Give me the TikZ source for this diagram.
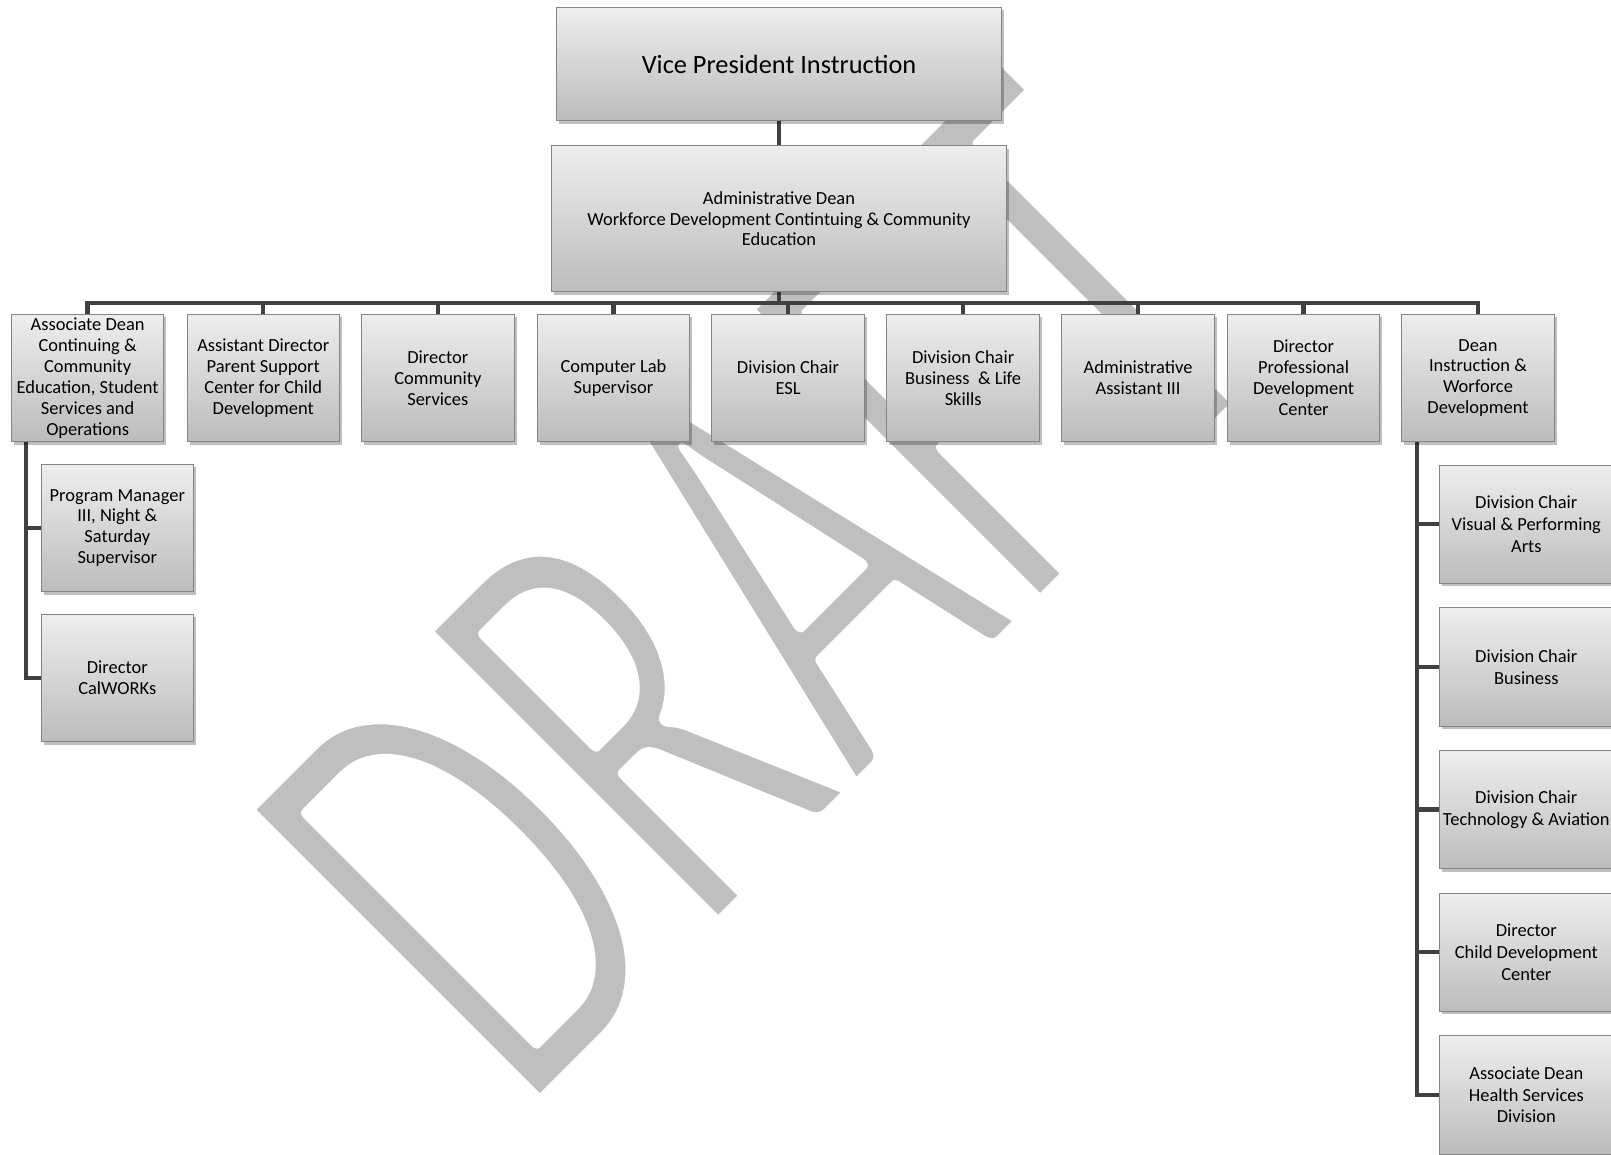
\documentclass[tikz,border=0pt]{standalone}
\usepackage{fontspec}
\setmainfont{Carlito}
\usepackage{xcolor}
\usetikzlibrary{calc,shadows,backgrounds}
\definecolor{linegray}{HTML}{404040}
\definecolor{boxtop}{HTML}{EEEEEE}
\definecolor{boxbottom}{HTML}{BCBCBC}
\definecolor{boxedge}{HTML}{858585}
\definecolor{markgray}{HTML}{BFBFBF}
% white outline over the glyphs gives the thin watermark letters
\newcommand{\thinmark}[1]{\special{pdf:code 2 Tr 1 1 1 RG 8 w 1 j}#1\special{pdf:code 0 Tr}}
\tikzset{
    orgbox/.style={draw=boxedge,line width=0.5pt,top color=boxtop,bottom color=boxbottom,
      drop shadow={shadow xshift=0.05cm,shadow yshift=-0.06cm,fill=black,opacity=0.25},
      align=center,inner sep=1pt,text=black,font=\fontsize{10.5}{11.9}\selectfont},
    unitbox/.style={orgbox,minimum width=3.05cm,minimum height=2.548cm},
    sidebox/.style={orgbox,minimum width=3.48cm,minimum height=2.366cm,
      font=\fontsize{10.5}{12.3}\selectfont},
    conn/.style={draw=linegray,line width=2.45pt},
    watermark/.style={anchor=base west,inner sep=0pt,text=markgray,transform shape,
      font=\fontsize{368}{368}\selectfont}
}

\begin{document}
\begin{tikzpicture}
  \useasboundingbox (0,0) rectangle (32.22,-23.08);
  % top of the chart
  \node[orgbox,minimum width=8.886cm,minimum height=2.268cm,
    font=\fontsize{15}{18}\selectfont] (vp) at (15.58,-1.28) {Vice President Instruction};
  \node[orgbox,minimum width=9.086cm,minimum height=2.92cm] (ad) at (15.58,-4.374)
    {Administrative Dean\\Workforce Development Contintuing \& Community\\Education};

  % first level
  \foreach \i/\x/\txt in {
      1/1.753/{Associate Dean\\Continuing \&\\Community\\Education, Student\\Services and\\Operations},
      2/5.265/{Assistant Director\\Parent Support\\Center for Child\\Development},
      3/8.757/{Director\\Community\\Services},
      4/12.269/{Computer Lab\\Supervisor},
      5/15.761/{Division Chair\\ESL},
      6/19.263/{Division Chair\\Business\ \ \& Life\\Skills},
      7/22.761/{Administrative\\Assistant III},
      8/26.071/{Director\\Professional\\Development\\Center},
      9/29.559/{Dean\\Instruction \&\\Worforce\\Development}} {
    \node[unitbox] (t\i) at (\x,-7.56) {\txt};
  }

  % under the associate dean
  \node[unitbox] (pm) at (2.346,-10.56) {Program Manager\\III, Night \&\\Saturday\\Supervisor};
  \node[unitbox] (cw) at (2.346,-13.56) {Director\\CalWORKs};

  % under the dean
  \foreach \i/\txt in {
      1/{Division Chair\\Visual \& Performing\\Arts},
      2/{Division Chair\\Business},
      3/{Division Chair\\Technology \& Aviation},
      4/{Director\\Child Development\\Center},
      5/{Associate Dean\\Health Services\\Division}} {
    \node[sidebox] (s\i) at (30.526,-10.484-2.854*\i+2.854) {\txt};
  }

  \begin{scope}[on background layer]
    % watermark behind everything
    \begin{scope}[shift={(10.44,-22.42)},rotate=45,xscale=0.63]
      \node[watermark] (mark) at (0,0) {\thinmark{DRAFT}};
    \end{scope}
    \coordinate (bus) at ($(ad.south)!0.5!(t5.north)$);
    \draw[conn] (vp.south) -- (ad.north);
    \draw[conn] (ad.south) -- (ad.south |- bus);
    \draw[conn] (t1.north) -- (t1.north |- bus) -- (t9.north |- bus) -- (t9.north);
    \foreach \i in {2,...,8}
      \draw[conn] (t\i.north) -- (t\i.north |- bus);
    \coordinate (lspine) at ($(t1.south west)+(0.306,0)$);
    \draw[conn] (lspine) |- (pm.west);
    \draw[conn] (lspine) |- (cw.west);
    \coordinate (rspine) at ($(t9.south west)+(0.312,0)$);
    \foreach \i in {1,...,5}
      \draw[conn] (rspine) |- (s\i.west);
  \end{scope}
\end{tikzpicture}
\end{document}
